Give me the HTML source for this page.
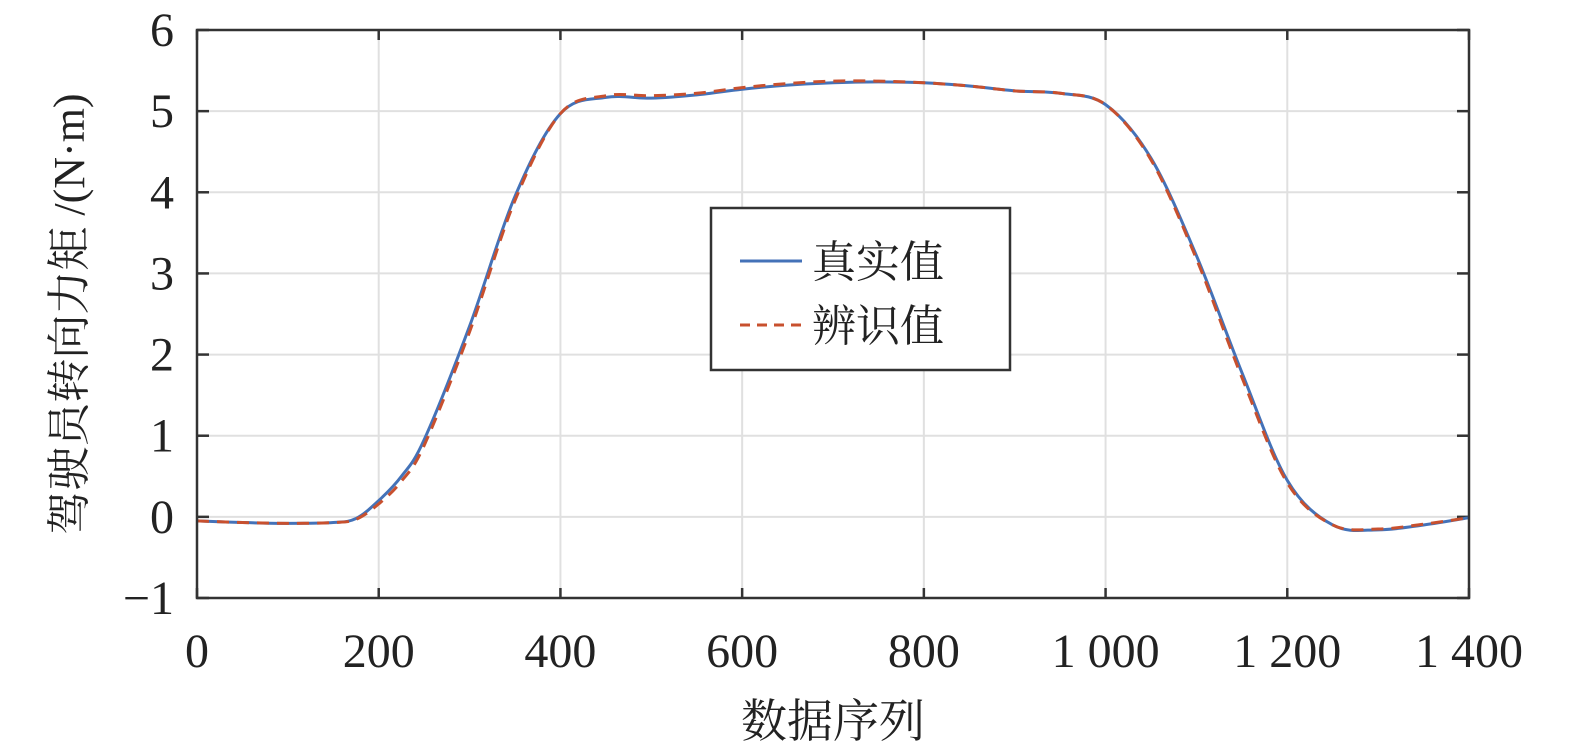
<!DOCTYPE html>
<html><head><meta charset="utf-8"><style>
body{margin:0;background:#fff;width:1575px;height:751px;overflow:hidden}
text{font-family:"Liberation Serif","Noto Serif CJK SC",serif;fill:#222}
</style></head><body>
<svg id="chart" width="1575" height="751"></svg>
<script>
const xTicks=[0,200,400,600,800,1000,1200,1400];
const xTickLabels=["0","200","400","600","800","1 000","1 200","1 400"];
const yTicks=[-1,0,1,2,3,4,5,6];
const yTickLabels=["−1","0","1","2","3","4","5","6"];
const xs=[0,50,100,150,175,200,225,250,300,350,400,450,500,550,600,650,700,750,800,850,900,950,1000,1050,1100,1150,1200,1250,1300,1350,1400];
const trueVals=[-0.05,-0.07,-0.08,-0.07,-0.02,0.2,0.5,0.95,2.35,3.95,4.97,5.17,5.16,5.2,5.27,5.32,5.35,5.36,5.35,5.31,5.25,5.22,5.08,4.42,3.22,1.78,0.45,-0.1,-0.16,-0.1,-0.01];
const identVals=[-0.05,-0.07,-0.08,-0.07,-0.03,0.16,0.44,0.88,2.28,3.9,4.97,5.19,5.19,5.22,5.29,5.34,5.37,5.37,5.35,5.31,5.25,5.22,5.08,4.4,3.18,1.72,0.42,-0.1,-0.15,-0.09,-0.01];
const L=197,R=1469,T=30,B=598;
const sx=v=>L+(v-0)/1400*(R-L);
const sy=v=>B-(v+1)/7*(B-T);
const svg=document.getElementById('chart');
const NS='http://www.w3.org/2000/svg';
function mk(t,a,p){const e=document.createElementNS(NS,t);for(const k in a)e.setAttribute(k,a[k]);(p||svg).appendChild(e);return e;}
xTicks.forEach((v,i)=>{
  const g=mk('line',{x1:sx(v),x2:sx(v),y1:T,y2:B,stroke:'#e0e0e0','stroke-width':2});
  
  
  const t=mk('line',{x1:sx(v),x2:sx(v),y1:B,y2:B-10,stroke:'#333','stroke-width':2.5});
  
  
  const t2=mk('line',{x1:sx(v),x2:sx(v),y1:T,y2:T+10,stroke:'#333','stroke-width':2.5});
  
  
  const l=mk('text',{x:sx(v),y:667,'text-anchor':'middle','font-size':48});
  l.textContent=xTickLabels[i];
  
  
});
yTicks.forEach((v,i)=>{
  const g=mk('line',{x1:L,x2:R,y1:sy(v),y2:sy(v),stroke:'#e0e0e0','stroke-width':2});
  
  
  const t=mk('line',{x1:L,x2:L+12,y1:sy(v),y2:sy(v),stroke:'#333','stroke-width':2.5});
  
  
  const t2=mk('line',{x1:R,x2:R-12,y1:sy(v),y2:sy(v),stroke:'#333','stroke-width':2.5});
  
  
  const l=mk('text',{x:174,y:sy(v)+16,'text-anchor':'end','font-size':48});
  l.textContent=yTickLabels[i];
  
  
});
function pathD(vals){
  const p=xs.map((x,i)=>[sx(x),sy(vals[i])]);
  let d='M'+p[0][0]+','+p[0][1];
  for(let i=0;i<p.length-1;i++){
    const p0=p[i-1]||p[i],p1=p[i],p2=p[i+1],p3=p[i+2]||p2;
    const c1=[p1[0]+(p2[0]-p0[0])/6,p1[1]+(p2[1]-p0[1])/6];
    const c2=[p2[0]-(p3[0]-p1[0])/6,p2[1]-(p3[1]-p1[1])/6];
    d+=' C'+c1+' '+c2+' '+p2;
  }
  return d;
}
const s1=mk('path',{d:pathD(trueVals),fill:'none',stroke:'#4472b8','stroke-width':3});


const s2=mk('path',{d:pathD(identVals),fill:'none',stroke:'#c8502e','stroke-width':3,'stroke-dasharray':'12,8'});


const box=mk('rect',{x:L,y:T,width:R-L,height:B-T,fill:'none',stroke:'#333','stroke-width':2.5});


const lg=mk('g',{});


mk('rect',{x:711,y:208,width:299,height:162,fill:'#fff',stroke:'#333','stroke-width':2.5},lg);
const e1=mk('line',{x1:740,x2:802,y1:261,y2:261,stroke:'#4472b8','stroke-width':3},lg);


const t1=mk('text',{x:812,y:277,'font-size':44},lg);t1.textContent='真实值';


const e2=mk('line',{x1:740,x2:802,y1:325,y2:325,stroke:'#c8502e','stroke-width':3,'stroke-dasharray':'10,7'},lg);


const t2=mk('text',{x:812,y:341,'font-size':44},lg);t2.textContent='辨识值';


const xt=mk('text',{x:833,y:737,'text-anchor':'middle','font-size':46});xt.textContent='数据序列';


const yt=mk('text',{x:0,y:0,'text-anchor':'middle','font-size':44,transform:'translate(84,314) rotate(-90)'});yt.textContent='驾驶员转向力矩 /(N·m)';


</script>
</body></html>
